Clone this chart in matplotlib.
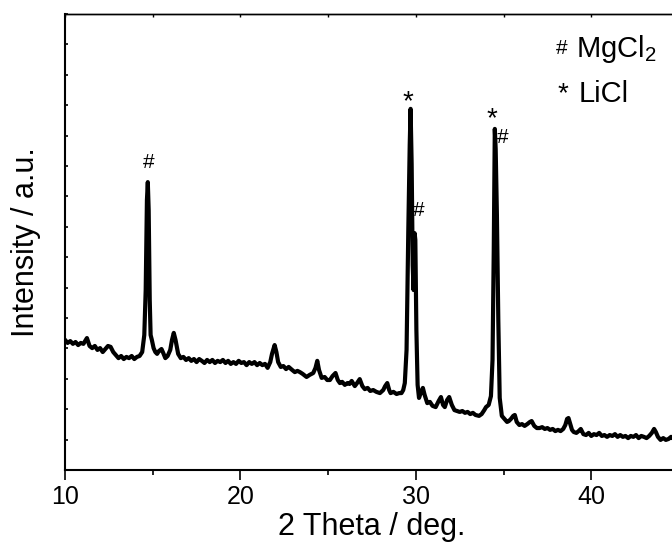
import numpy as np
import matplotlib.pyplot as plt

plt.rcParams['font.family'] = ['Liberation Sans', 'DejaVu Sans']

# 2 theta (deg)
two_theta = [
    10.0, 10.15, 10.3, 10.45, 10.6, 10.75, 10.9, 11.05, 11.25, 11.4,
    11.55, 11.7, 11.85, 12.0, 12.15, 12.3, 12.45, 12.6, 12.75, 12.9,
    13.05, 13.2, 13.35, 13.5, 13.65, 13.8, 13.95, 14.1, 14.25, 14.4,
    14.52, 14.6, 14.67, 14.72, 14.77, 14.83, 14.88, 14.95, 15.05, 15.15,
    15.25, 15.35, 15.5, 15.6, 15.72, 15.85, 16.0, 16.1, 16.2, 16.3,
    16.45, 16.6, 16.75, 16.9, 17.05, 17.2, 17.35, 17.5, 17.65, 17.8,
    17.95, 18.1, 18.25, 18.4, 18.55, 18.7, 18.85, 19.0, 19.15, 19.3,
    19.45, 19.6, 19.75, 19.9, 20.05, 20.2, 20.35, 20.5, 20.65, 20.8,
    20.95, 21.1, 21.25, 21.4, 21.55, 21.7, 21.8, 21.95, 22.05, 22.15,
    22.3, 22.45, 22.6, 22.75, 22.95, 23.1, 23.25, 23.39, 23.55, 23.77,
    23.95, 24.15, 24.28, 24.38, 24.48, 24.63, 24.8, 24.95, 25.1, 25.25,
    25.42, 25.55, 25.67, 25.8, 25.95, 26.1, 26.22, 26.34, 26.52, 26.65,
    26.8, 26.95, 27.09, 27.25, 27.4, 27.57, 27.75, 27.95, 28.14, 28.25,
    28.37, 28.48, 28.56, 28.72, 28.9, 29.05, 29.18, 29.28, 29.37, 29.47,
    29.57, 29.65, 29.70, 29.76, 29.82, 29.87, 29.93, 29.97, 30.03, 30.1,
    30.18, 30.3, 30.4, 30.5, 30.65, 30.8, 30.95, 31.13, 31.3, 31.43,
    31.55, 31.65, 31.78, 31.9, 32.05, 32.2, 32.35, 32.5, 32.65, 32.8,
    32.95, 33.1, 33.25, 33.4, 33.6, 33.75, 33.9, 34.0, 34.15, 34.28,
    34.37, 34.44, 34.5, 34.55, 34.62, 34.7, 34.78, 34.9, 35.05, 35.2,
    35.3, 35.42, 35.55, 35.64, 35.75, 35.9, 36.05, 36.2, 36.35, 36.5,
    36.6, 36.75, 36.9, 37.05, 37.2, 37.35, 37.5, 37.65, 37.8, 37.95,
    38.1, 38.25, 38.4, 38.52, 38.62, 38.7, 38.8, 38.9, 39.0, 39.15,
    39.28, 39.4, 39.55, 39.7, 39.85, 40.0, 40.15, 40.3, 40.45, 40.6,
    40.75, 40.9, 41.05, 41.2, 41.35, 41.5, 41.65, 41.8, 41.95, 42.1,
    42.25, 42.4, 42.55, 42.7, 42.85, 43.0, 43.15, 43.3, 43.45, 43.58,
    43.68, 43.8, 43.95, 44.1, 44.25, 44.4, 44.55, 44.7, 44.85, 45.0,
]
# intensity (arb. counts)
intensity = [
    428, 418, 424, 415, 421, 411, 418, 415, 434, 408,
    401, 408, 395, 401, 388, 398, 408, 405, 388, 378,
    368, 375, 365, 372, 368, 375, 365, 372, 375, 388,
    444, 592, 888, 947, 855, 559, 444, 428, 401, 388,
    382, 391, 398, 385, 368, 375, 395, 428, 451, 428,
    382, 368, 372, 362, 368, 359, 365, 355, 365, 359,
    352, 362, 355, 362, 352, 359, 355, 362, 352, 359,
    349, 355, 349, 359, 352, 355, 345, 355, 349, 355,
    345, 352, 345, 349, 336, 355, 382, 411, 388, 355,
    339, 342, 332, 339, 329, 322, 326, 322, 316, 306,
    313, 319, 336, 359, 329, 303, 306, 296, 296, 309,
    319, 296, 286, 290, 280, 286, 283, 293, 276, 286,
    299, 276, 266, 270, 260, 263, 257, 253, 263, 276,
    286, 263, 253, 257, 250, 253, 253, 263, 286, 395,
    790, 1069, 1188, 1007, 674, 592, 779, 757, 461, 280,
    237, 257, 270, 247, 220, 224, 211, 207, 227, 240,
    214, 207, 230, 240, 214, 197, 194, 191, 194, 188,
    191, 184, 188, 181, 178, 184, 197, 207, 214, 243,
    362, 720, 1122, 1056, 839, 493, 237, 178, 168, 158,
    161, 168, 178, 181, 158, 148, 151, 145, 151, 158,
    161, 145, 138, 138, 141, 135, 138, 132, 135, 128,
    132, 128, 135, 148, 168, 171, 151, 132, 125, 122,
    128, 135, 118, 115, 122, 112, 118, 115, 122, 112,
    115, 109, 115, 112, 118, 109, 115, 109, 112, 105,
    112, 109, 115, 105, 112, 109, 105, 112, 122, 135,
    125, 109, 99, 105, 99, 102, 109, 102, 109, 105,
]

# peak labels: symbol, 2 theta, height
marks = ['#', '*', '#', '*', '#']
mark_x = [14.76, 29.54, 30.17, 34.33, 34.97]
mark_y = [1010, 1209, 855, 1153, 1095]

fig = plt.figure(figsize=(6.72, 5.45), dpi=100)
ax = fig.add_axes([65 / 672, 75 / 545, 614 / 672, 456 / 545])

ax.plot(two_theta, intensity, color='black', lw=3.0, solid_joinstyle='round')

for m, x, y in zip(marks, mark_x, mark_y):
    if m == '*':
        ax.text(x, y, m, fontsize=20, ha='center', va='center')
    else:
        ax.text(x, y, m, fontsize=15, ha='center', va='center')

ax.text(0.809, 0.925, '#', fontsize=15, ha='center', va='center', transform=ax.transAxes)
ax.text(0.832, 0.906, r'MgCl$_{\mathregular{2}}$', fontsize=21, ha='left', va='baseline',
        transform=ax.transAxes)
ax.text(0.811, 0.825, '*', fontsize=20, ha='center', va='center', transform=ax.transAxes)
ax.text(0.837, 0.807, 'LiCl', fontsize=21, ha='left', va='baseline', transform=ax.transAxes)

ax.set_xlim(10, 45)
ax.set_ylim(0, 1500)
ax.set_xticks([10, 20, 30, 40])
ax.set_xticks([15, 25, 35, 45], minor=True)
ax.set_yticks(np.arange(0, 1501, 100))
ax.set_yticklabels([])
ax.tick_params(axis='x', which='major', direction='out', length=7, width=1.2, labelsize=18, pad=4)
ax.tick_params(axis='x', which='minor', direction='out', length=3.5, width=1.2)
ax.tick_params(axis='y', direction='in', length=2, width=1.2)

top = ax.secondary_xaxis('top')
top.set_xticks([10, 15, 20, 25, 30, 35, 40, 45])
top.set_xticklabels([])
top.tick_params(direction='in', length=2, width=1)

for s in ['left', 'bottom']:
    ax.spines[s].set_linewidth(1.5)
ax.spines['top'].set_linewidth(1.0)
top.spines['top'].set_linewidth(1.0)

ax.set_xlabel('2 Theta / deg.', fontsize=22, labelpad=2)
ax.set_ylabel('Intensity / a.u.', fontsize=22, labelpad=14)

fig.savefig('out.png', dpi=100)
